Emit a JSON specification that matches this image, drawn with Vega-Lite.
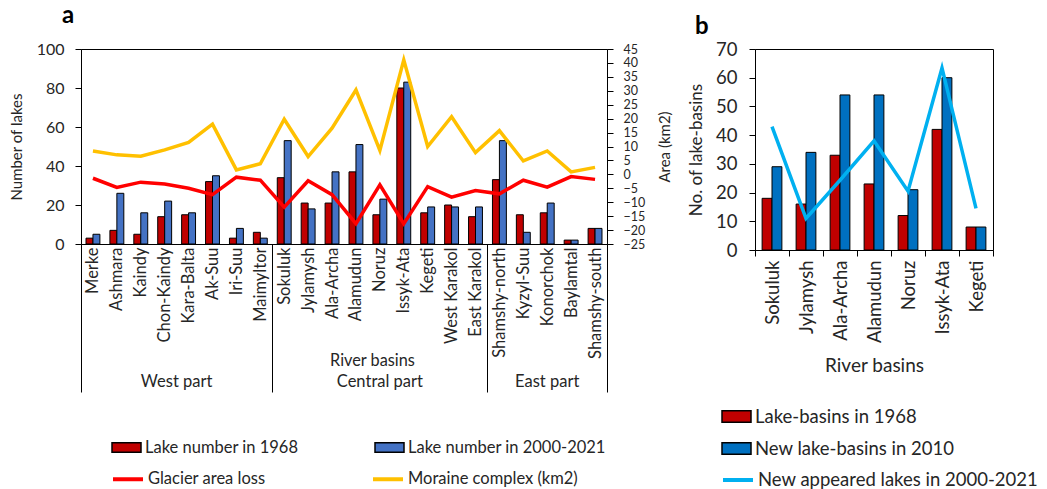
{
  "$schema": "https://vega.github.io/schema/vega-lite/v6.json",
  "padding": {"left": 8, "top": 3, "right": 0, "bottom": 0},
  "background": "white",
  "config": {
    "font": "Lato",
    "view": {"stroke": "black", "strokeWidth": 1},
    "axis": {"labelFont": "Lato", "titleFont": "Lato", "labelColor": "#262626", "titleColor": "#262626", "labelFontSize": 16, "titleFontSize": 15, "titleFontWeight": "normal", "domainColor": "black", "tickColor": "black", "grid": false},
    "legend": {"labelFont": "Lato", "labelFontSize": 16.5, "labelColor": "#262626", "labelLimit": 400},
    "title": {"font": "Lato", "fontWeight": "bold", "fontSize": 24, "color": "black"}
  },
  "datasets": {
    "lakesA": [
      {"basin": "Merke", "series": "Lake number in 1968", "lakes": 3}, {"basin": "Merke", "series": "Lake number in 2000-2021", "lakes": 5},
      {"basin": "Ashmara", "series": "Lake number in 1968", "lakes": 7}, {"basin": "Ashmara", "series": "Lake number in 2000-2021", "lakes": 26},
      {"basin": "Kaindy", "series": "Lake number in 1968", "lakes": 5}, {"basin": "Kaindy", "series": "Lake number in 2000-2021", "lakes": 16},
      {"basin": "Chon-Kaindy", "series": "Lake number in 1968", "lakes": 14}, {"basin": "Chon-Kaindy", "series": "Lake number in 2000-2021", "lakes": 22},
      {"basin": "Kara-Balta", "series": "Lake number in 1968", "lakes": 15}, {"basin": "Kara-Balta", "series": "Lake number in 2000-2021", "lakes": 16},
      {"basin": "Ak-Suu", "series": "Lake number in 1968", "lakes": 32}, {"basin": "Ak-Suu", "series": "Lake number in 2000-2021", "lakes": 35},
      {"basin": "Iri-Suu", "series": "Lake number in 1968", "lakes": 3}, {"basin": "Iri-Suu", "series": "Lake number in 2000-2021", "lakes": 8},
      {"basin": "Maimyltor", "series": "Lake number in 1968", "lakes": 6}, {"basin": "Maimyltor", "series": "Lake number in 2000-2021", "lakes": 3},
      {"basin": "Sokuluk", "series": "Lake number in 1968", "lakes": 34}, {"basin": "Sokuluk", "series": "Lake number in 2000-2021", "lakes": 53},
      {"basin": "Jylamysh", "series": "Lake number in 1968", "lakes": 21}, {"basin": "Jylamysh", "series": "Lake number in 2000-2021", "lakes": 18},
      {"basin": "Ala-Archa", "series": "Lake number in 1968", "lakes": 21}, {"basin": "Ala-Archa", "series": "Lake number in 2000-2021", "lakes": 37},
      {"basin": "Alamudun", "series": "Lake number in 1968", "lakes": 37}, {"basin": "Alamudun", "series": "Lake number in 2000-2021", "lakes": 51},
      {"basin": "Noruz", "series": "Lake number in 1968", "lakes": 15}, {"basin": "Noruz", "series": "Lake number in 2000-2021", "lakes": 23},
      {"basin": "Issyk-Ata", "series": "Lake number in 1968", "lakes": 80}, {"basin": "Issyk-Ata", "series": "Lake number in 2000-2021", "lakes": 83},
      {"basin": "Kegeti", "series": "Lake number in 1968", "lakes": 16}, {"basin": "Kegeti", "series": "Lake number in 2000-2021", "lakes": 19},
      {"basin": "West Karakol", "series": "Lake number in 1968", "lakes": 20}, {"basin": "West Karakol", "series": "Lake number in 2000-2021", "lakes": 19},
      {"basin": "East Karakol", "series": "Lake number in 1968", "lakes": 14}, {"basin": "East Karakol", "series": "Lake number in 2000-2021", "lakes": 19},
      {"basin": "Shamshy-north", "series": "Lake number in 1968", "lakes": 33}, {"basin": "Shamshy-north", "series": "Lake number in 2000-2021", "lakes": 53},
      {"basin": "Kyzyl-Suu", "series": "Lake number in 1968", "lakes": 15}, {"basin": "Kyzyl-Suu", "series": "Lake number in 2000-2021", "lakes": 6},
      {"basin": "Konorchok", "series": "Lake number in 1968", "lakes": 16}, {"basin": "Konorchok", "series": "Lake number in 2000-2021", "lakes": 21},
      {"basin": "Baylamtal", "series": "Lake number in 1968", "lakes": 2}, {"basin": "Baylamtal", "series": "Lake number in 2000-2021", "lakes": 2},
      {"basin": "Shamshy-south", "series": "Lake number in 1968", "lakes": 8}, {"basin": "Shamshy-south", "series": "Lake number in 2000-2021", "lakes": 8}
    ],
    "areaA": [
      {"basin": "Merke", "measure": "Glacier area loss", "area": -1.4}, {"basin": "Merke", "measure": "Moraine complex (km2)", "area": 8.4},
      {"basin": "Ashmara", "measure": "Glacier area loss", "area": -4.7}, {"basin": "Ashmara", "measure": "Moraine complex (km2)", "area": 7.0},
      {"basin": "Kaindy", "measure": "Glacier area loss", "area": -2.8}, {"basin": "Kaindy", "measure": "Moraine complex (km2)", "area": 6.5},
      {"basin": "Chon-Kaindy", "measure": "Glacier area loss", "area": -3.5}, {"basin": "Chon-Kaindy", "measure": "Moraine complex (km2)", "area": 8.8},
      {"basin": "Kara-Balta", "measure": "Glacier area loss", "area": -5.0}, {"basin": "Kara-Balta", "measure": "Moraine complex (km2)", "area": 11.5},
      {"basin": "Ak-Suu", "measure": "Glacier area loss", "area": -7.3}, {"basin": "Ak-Suu", "measure": "Moraine complex (km2)", "area": 18.0},
      {"basin": "Iri-Suu", "measure": "Glacier area loss", "area": -1.0}, {"basin": "Iri-Suu", "measure": "Moraine complex (km2)", "area": 1.6},
      {"basin": "Maimyltor", "measure": "Glacier area loss", "area": -2.1}, {"basin": "Maimyltor", "measure": "Moraine complex (km2)", "area": 3.8},
      {"basin": "Sokuluk", "measure": "Glacier area loss", "area": -11.8}, {"basin": "Sokuluk", "measure": "Moraine complex (km2)", "area": 19.8},
      {"basin": "Jylamysh", "measure": "Glacier area loss", "area": -2.3}, {"basin": "Jylamysh", "measure": "Moraine complex (km2)", "area": 6.4},
      {"basin": "Ala-Archa", "measure": "Glacier area loss", "area": -7.3}, {"basin": "Ala-Archa", "measure": "Moraine complex (km2)", "area": 16.6},
      {"basin": "Alamudun", "measure": "Glacier area loss", "area": -17.7}, {"basin": "Alamudun", "measure": "Moraine complex (km2)", "area": 30.3},
      {"basin": "Noruz", "measure": "Glacier area loss", "area": -3.8}, {"basin": "Noruz", "measure": "Moraine complex (km2)", "area": 8.6},
      {"basin": "Issyk-Ata", "measure": "Glacier area loss", "area": -17.7}, {"basin": "Issyk-Ata", "measure": "Moraine complex (km2)", "area": 41.1},
      {"basin": "Kegeti", "measure": "Glacier area loss", "area": -4.4}, {"basin": "Kegeti", "measure": "Moraine complex (km2)", "area": 10.0},
      {"basin": "West Karakol", "measure": "Glacier area loss", "area": -8.2}, {"basin": "West Karakol", "measure": "Moraine complex (km2)", "area": 20.7},
      {"basin": "East Karakol", "measure": "Glacier area loss", "area": -5.8}, {"basin": "East Karakol", "measure": "Moraine complex (km2)", "area": 7.8},
      {"basin": "Shamshy-north", "measure": "Glacier area loss", "area": -7.0}, {"basin": "Shamshy-north", "measure": "Moraine complex (km2)", "area": 15.7},
      {"basin": "Kyzyl-Suu", "measure": "Glacier area loss", "area": -2.1}, {"basin": "Kyzyl-Suu", "measure": "Moraine complex (km2)", "area": 4.8},
      {"basin": "Konorchok", "measure": "Glacier area loss", "area": -4.6}, {"basin": "Konorchok", "measure": "Moraine complex (km2)", "area": 8.4},
      {"basin": "Baylamtal", "measure": "Glacier area loss", "area": -0.8}, {"basin": "Baylamtal", "measure": "Moraine complex (km2)", "area": 0.9},
      {"basin": "Shamshy-south", "measure": "Glacier area loss", "area": -1.8}, {"basin": "Shamshy-south", "measure": "Moraine complex (km2)", "area": 2.5}
    ],
    "groupsA": [
      {"group": "West part", "mid": 4},
      {"group": "Central part", "mid": 12.5},
      {"group": "East part", "mid": 19.5}
    ],
    "lakesB": [
      {"basin": "Sokuluk", "series": "Lake-basins in 1968", "count": 18}, {"basin": "Sokuluk", "series": "New lake-basins in 2010", "count": 29},
      {"basin": "Jylamysh", "series": "Lake-basins in 1968", "count": 16}, {"basin": "Jylamysh", "series": "New lake-basins in 2010", "count": 34},
      {"basin": "Ala-Archa", "series": "Lake-basins in 1968", "count": 33}, {"basin": "Ala-Archa", "series": "New lake-basins in 2010", "count": 54},
      {"basin": "Alamudun", "series": "Lake-basins in 1968", "count": 23}, {"basin": "Alamudun", "series": "New lake-basins in 2010", "count": 54},
      {"basin": "Noruz", "series": "Lake-basins in 1968", "count": 12}, {"basin": "Noruz", "series": "New lake-basins in 2010", "count": 21},
      {"basin": "Issyk-Ata", "series": "Lake-basins in 1968", "count": 42}, {"basin": "Issyk-Ata", "series": "New lake-basins in 2010", "count": 60},
      {"basin": "Kegeti", "series": "Lake-basins in 1968", "count": 8}, {"basin": "Kegeti", "series": "New lake-basins in 2010", "count": 8}
    ],
    "newB": [
      {"basin": "Sokuluk", "measure": "New appeared lakes in 2000-2021", "count": 43},
      {"basin": "Jylamysh", "measure": "New appeared lakes in 2000-2021", "count": 11},
      {"basin": "Ala-Archa", "measure": "New appeared lakes in 2000-2021", "count": 24.3},
      {"basin": "Alamudun", "measure": "New appeared lakes in 2000-2021", "count": 38},
      {"basin": "Noruz", "measure": "New appeared lakes in 2000-2021", "count": 20.5},
      {"basin": "Issyk-Ata", "measure": "New appeared lakes in 2000-2021", "count": 63.4},
      {"basin": "Kegeti", "measure": "New appeared lakes in 2000-2021", "count": 14.5}
    ]
  },
  "spacing": 13,
  "resolve": {
    "scale": {"x": "independent", "y": "independent", "xOffset": "independent", "fill": "independent", "stroke": "independent"},
    "legend": {"fill": "independent", "stroke": "independent"}
  },
  "hconcat": [
    {
      "width": 526,
      "height": 195,
      "title": {"text": "a", "anchor": "start", "frame": "group", "dx": -19, "offset": 13},
      "resolve": {"scale": {"x": "independent", "y": "independent"}},
      "layer": [
        {
          "data": {"name": "lakesA"},
          "mark": {"type": "bar", "stroke": "black", "strokeWidth": 1},
          "encoding": {
            "x": {
              "field": "basin", "type": "nominal", "sort": null,
              "scale": {"type": "band", "paddingInner": 0, "paddingOuter": 0},
              "axis": {
                "title": "River basins", "labelAngle": -90, "tickBand": "extent", "tickSize": 148, "labelPadding": -145, "labelFontSize": 16.5, "titleFontSize": 16.3,
                "tickOpacity": {"condition": {"test": "datum.extra || indexof(['Maimyltor','East Karakol','Shamshy-south'], datum.value) >= 0", "value": 1}, "value": 0},
                "titleX": 291, "titleY": 116, "titleBaseline": "middle", "titleAnchor": "middle", "titleAlign": "center"
              }
            },
            "xOffset": {"field": "series", "type": "nominal", "sort": null, "scale": {"paddingInner": 0, "paddingOuter": 0.72}},
            "y": {
              "field": "lakes", "type": "quantitative", "scale": {"domain": [0, 100]},
              "axis": {"title": "Number of lakes", "orient": "left", "values": [0, 20, 40, 60, 80, 100], "tickSize": 6, "labelPadding": 11, "titlePadding": 12}
            },
            "fill": {
              "field": "series", "type": "nominal", "sort": null,
              "scale": {"range": ["#C00000", "#4472C4"]},
              "legend": {
                "title": null, "orient": "none", "legendX": 30, "legendY": 383, "direction": "horizontal", "columns": 2, "columnPadding": 73,
                "symbolType": "M-1,-0.32H1V0.32H-1Z", "symbolSize": 841, "symbolStrokeColor": "black", "symbolStrokeWidth": 1.5, "labelOffset": 3
              }
            }
          }
        },
        {
          "data": {"name": "areaA"},
          "mark": {"type": "line", "strokeWidth": 3.5},
          "encoding": {
            "x": {"field": "basin", "type": "nominal", "sort": null, "scale": {"type": "point", "padding": 0.5}, "axis": null},
            "y": {
              "field": "area", "type": "quantitative", "scale": {"domain": [-25, 45]},
              "axis": {"title": "Area (km2)", "orient": "right", "values": [-25, -20, -15, -10, -5, 0, 5, 10, 15, 20, 25, 30, 35, 40, 45], "labelOverlap": false, "labelFontSize": 12.5, "tickSize": 6, "labelPadding": 10, "titleAngle": -90, "titlePadding": 28}
            },
            "stroke": {
              "field": "measure", "type": "nominal", "sort": null,
              "scale": {"range": ["#FF0000", "#FFC000"]},
              "legend": {
                "title": null, "orient": "none", "legendX": 30, "legendY": 413, "direction": "horizontal", "columns": 2, "columnPadding": 99,
                "symbolType": "stroke", "symbolSize": 900, "symbolStrokeWidth": 4, "labelOffset": 3
              }
            }
          }
        },
        {
          "data": {"name": "groupsA"},
          "mark": {"type": "text", "fontSize": 16.5, "font": "Lato", "color": "#262626", "baseline": "middle", "dy": 138},
          "encoding": {
            "x": {"field": "mid", "type": "quantitative", "scale": {"domain": [0, 22], "nice": false, "zero": true}, "axis": null},
            "y": {"value": "height"},
            "text": {"field": "group"}
          }
        }
      ]
    },
    {
      "width": 238,
      "height": 201,
      "title": {"text": "b", "anchor": "start", "frame": "group", "dx": -60, "offset": 1},
      "resolve": {"scale": {"x": "independent"}},
      "encoding": {
        "y": {
          "field": "count", "type": "quantitative", "scale": {"domain": [0, 70]},
          "axis": {"title": "No. of lake-basins", "values": [0, 10, 20, 30, 40, 50, 60, 70], "labelOverlap": false, "tickSize": 6, "labelPadding": 12, "labelFontSize": 18.5, "titleFontSize": 17, "titlePadding": 10}
        }
      },
      "layer": [
        {
          "data": {"name": "lakesB"},
          "mark": {"type": "bar", "stroke": "black", "strokeWidth": 1},
          "encoding": {
            "x": {
              "field": "basin", "type": "nominal", "sort": null,
              "scale": {"type": "band", "paddingInner": 0, "paddingOuter": 0},
              "axis": {"title": "River basins", "labelAngle": -90, "tickBand": "extent", "tickSize": 6, "labelPadding": 4, "labelFontSize": 18.5, "titleFontSize": 19, "titlePadding": 14}
            },
            "xOffset": {"field": "series", "type": "nominal", "sort": null, "scale": {"paddingInner": 0, "paddingOuter": 0.72}},
            "fill": {
              "field": "series", "type": "nominal", "sort": null,
              "scale": {"range": ["#C00000", "#0070C0"]},
              "legend": {
                "title": null, "orient": "none", "legendX": -34, "legendY": 352, "direction": "vertical", "rowPadding": 7,
                "symbolType": "M-1,-0.4H1V0.4H-1Z", "symbolSize": 841, "symbolStrokeColor": "black", "symbolStrokeWidth": 1.5, "labelOffset": 3, "labelFontSize": 18.5
              }
            }
          }
        },
        {
          "data": {"name": "newB"},
          "mark": {"type": "line", "strokeWidth": 3.5},
          "encoding": {
            "x": {"field": "basin", "type": "nominal", "sort": null, "scale": {"type": "point", "padding": 0.5}, "axis": null},
            "stroke": {
              "field": "measure", "type": "nominal",
              "scale": {"range": ["#00B0F0"]},
              "legend": {
                "title": null, "orient": "none", "legendX": -34, "legendY": 414,
                "symbolType": "stroke", "symbolSize": 900, "symbolStrokeWidth": 4, "labelOffset": 3, "labelFontSize": 18.5
              }
            }
          }
        }
      ]
    }
  ]
}
